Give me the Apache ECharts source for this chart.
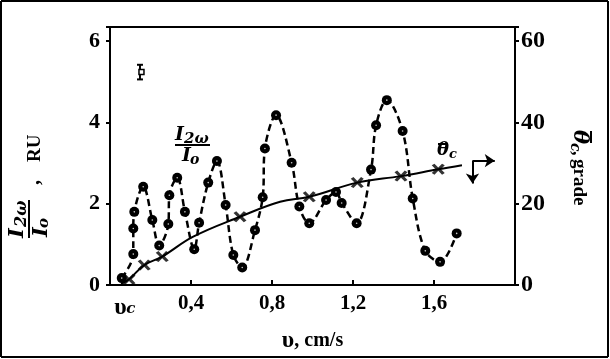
<!DOCTYPE html>
<html><head><meta charset="utf-8">
<script src="https://cdn.jsdelivr.net/npm/echarts@6/dist/echarts.min.js"></script>
<style>html,body{margin:0;padding:0;background:#fff}#c{width:610px;height:359px}</style>
</head><body><div id="c"></div>
<script>
// I2w/Io (left axis, RU) measured points along dashed curve
const ratioV = [0.058,0.115,0.115,0.12,0.164,0.209,0.243,0.288,0.293,0.332,0.37,0.416,0.44,0.485,0.528,0.571,0.609,0.653,0.716,0.754,0.765,0.82,0.897,0.935,0.984,1.067,1.116,1.144,1.218,1.289,1.314,1.367,1.445,1.495,1.557,1.63,1.712];
const ratioI = [0.17,0.76,1.39,1.80,2.42,1.60,0.97,1.50,2.21,2.64,1.80,0.88,1.53,2.52,3.05,1.97,0.74,0.43,1.35,2.16,3.36,4.18,3.01,1.93,1.52,2.09,2.29,2.02,1.52,2.84,3.93,4.55,3.79,2.13,0.84,0.57,1.27];
// theta_c (right axis, grade) measured X markers
const thetaV = [0.094,0.169,0.258,0.642,0.984,1.221,1.437,1.621];
const thetaDeg = [1.4,4.9,7.0,16.8,21.7,25.2,26.8,28.5];
// solid fitted theta curve
const curveV = [0.054,0.094,0.169,0.258,0.411,0.642,0.84,0.984,1.221,1.437,1.621,1.738];
const curveDeg = [0.3,1.4,4.9,7.0,11.9,16.8,20.5,21.7,25.2,26.8,28.5,29.5];
// tick labels
const xTickLabels = [0.4,0.8,1.2,1.6];
const leftTicks = [0,2,4,6];
const rightTicks = [0,20,40,60];
const vcValue = 0.08;
// error bar example [v, low, high]
const errBar = [[0.148,5.06,5.42]];
// arrow annotation for theta curve (right axis coords)
const arrowCorner = [1.79,30.6], arrowRight = [1.9,30.6], arrowDown = [1.79,25.0];

const chart = echarts.init(document.getElementById('c'), null, {renderer:'canvas'});
const BLACK = '#000';
const serif = 'Liberation Serif';
const ital = '"DejaVu Serif"';

function t(text, x, y, font, va) {
  return {type:'text', x:x, y:y, silent:true,
    style:{text:text, font:font, fill:BLACK, align:'left', verticalAlign:va||'bottom'}};
}
function bar(x, y, w, h) {
  return {type:'rect', silent:true, shape:{x:x, y:y, width:w, height:h}, style:{fill:BLACK}};
}
function ln(x1, y1, x2, y2) {
  return {type:'line', silent:true, shape:{x1:x1,y1:y1,x2:x2,y2:y2}, style:{stroke:BLACK, lineWidth:2}};
}

const option = {
  animation:false,
  backgroundColor:'#fff',
  grid:{left:110, right:95, top:27, bottom:74, show:true, borderColor:BLACK, borderWidth:2, backgroundColor:'rgba(0,0,0,0)'},
  xAxis:{type:'value', min:0, max:2, interval:0.4,
    axisLine:{lineStyle:{color:BLACK, width:2}},
    axisTick:{inside:true, length:5, lineStyle:{color:BLACK, width:2}},
    splitLine:{show:false},
    axisLabel:{color:BLACK, fontFamily:serif, fontWeight:'bold', fontSize:21, margin:8,
      formatter:function(v){ const r=Math.round(v*10)/10; return xTickLabels.indexOf(r)>=0 ? r.toFixed(1).replace('.',',') : ''; }},
    name:'{u|υ}{n|, cm/s}', nameLocation:'middle', nameGap:44,
    nameTextStyle:{color:BLACK, rich:{u:{fontFamily:serif, fontWeight:'bold', fontSize:24, color:BLACK}, n:{fontFamily:serif, fontWeight:'bold', fontSize:20, color:BLACK}}}
  },
  yAxis:[
    {type:'value', min:0, max:6.35, interval:2, position:'left',
     axisLine:{show:true, lineStyle:{color:BLACK, width:2}},
     axisTick:{show:true, length:4, lineStyle:{color:BLACK, width:2}},
     splitLine:{show:false},
     axisLabel:{color:BLACK, fontFamily:serif, fontWeight:'bold', fontSize:22, margin:10,
       formatter:function(v){ return leftTicks.indexOf(Math.round(v*100)/100)>=0 ? String(v) : ''; }}},
    {type:'value', min:0, max:63.5, interval:20, position:'right',
     axisLine:{show:true, lineStyle:{color:BLACK, width:2}},
     axisTick:{show:true, length:4, lineStyle:{color:BLACK, width:2}},
     splitLine:{show:false},
     axisLabel:{color:BLACK, fontFamily:serif, fontWeight:'bold', fontSize:24, margin:6,
       formatter:function(v){ return rightTicks.indexOf(Math.round(v*100)/100)>=0 ? String(v) : ''; }}}
  ],
  series:[
    {type:'line', yAxisIndex:0, smooth:0.35, data:ratioV.map((v,i)=>[v,ratioI[i]]),
     lineStyle:{color:BLACK, width:2.5, type:[7,4]}, symbol:'circle', symbolSize:10,
     itemStyle:{color:BLACK}, z:3},
    {type:'scatter', yAxisIndex:0, data:ratioV.map((v,i)=>[v,ratioI[i]]), symbol:'circle', symbolSize:1.6,
     itemStyle:{color:'#fff'}, z:4, silent:true},
    {type:'line', yAxisIndex:1, smooth:0.4, data:curveV.map((v,i)=>[v,curveDeg[i]]), showSymbol:false,
     lineStyle:{color:BLACK, width:2}, z:2},
    {type:'scatter', yAxisIndex:1, data:thetaV.map((v,i)=>[v,thetaDeg[i]]),
     symbol:'path://M0,1.5L2.5,0L6,3.5L9.5,0L12,1.5L8.5,5L12,8.5L9.5,10L6,6.5L2.5,10L0,8.5L3.5,5Z', symbolSize:[13,11],
     itemStyle:{color:BLACK}, z:5,
     markLine:{silent:true, animation:false, symbol:['none','arrow'], symbolSize:10,
       lineStyle:{type:'solid', color:BLACK, width:2}, label:{show:false},
       data:[[{coord:arrowCorner},{coord:arrowRight}],[{coord:arrowCorner},{coord:arrowDown}]]}},
    {type:'custom', yAxisIndex:0, data:errBar, z:6, silent:true,
     renderItem:function(params, api){
       const x=api.value(0), lo=api.coord([x, api.value(1)]), hi=api.coord([x, api.value(2)]);
       const st={stroke:BLACK, lineWidth:2};
       const my=(lo[1]+hi[1])/2;
       return {type:'group', children:[
         {type:'line', shape:{x1:lo[0],y1:lo[1],x2:hi[0],y2:hi[1]}, style:st},
         {type:'line', shape:{x1:lo[0]-3,y1:lo[1],x2:lo[0]+3,y2:lo[1]}, style:st},
         {type:'line', shape:{x1:hi[0]-3,y1:hi[1],x2:hi[0]+3,y2:hi[1]}, style:st},
         {type:'rect', shape:{x:lo[0]-1,y:my-2.5,width:5,height:5}, style:{fill:'#fff', stroke:BLACK, lineWidth:1.5}}
       ]};
     }}
  ]
};
chart.setOption(option);
const vcX = chart.convertToPixel({xAxisIndex:0}, vcValue);
const bi = 'italic bold ';
chart.setOption({graphic:[
  // outer border
  {type:'group', silent:true, children:[ln(1,1,608,1), ln(1,1,1,357), ln(608,1,608,357), ln(1,357,608,357)]},
  // left axis title (rotated)
  {type:'group', x:29, y:238, rotation:Math.PI/2, silent:true, children:[
    t('I', 0, -1, bi+'21px '+ital),
    t('2ω', 11, 1, bi+'16px '+ital),
    bar(0, -1, 38, 2),
    t('I', 1, 2, bi+'21px '+ital, 'top'),
    t('o', 10, 8, bi+'15px '+ital, 'top'),
    t(',', 53, 15, 'bold 20px '+serif),
    t('RU', 76, 16, 'bold 19px '+serif)
  ]},
  // right axis title (rotated)
  {type:'group', x:573, y:130, rotation:-Math.PI/2, silent:true, children:[
    t('θ', 0, 4, bi+'21px '+ital),
    bar(1, -19, 12, 2),
    t('c', 13, 5, bi+'14px '+ital),
    t(',', 21, 4, 'bold 18px '+serif),
    t('grade', 29, 4, 'bold 19px '+serif)
  ]},
  // in-plot fraction label
  {type:'group', x:175, y:145, silent:true, children:[
    t('I', 0, 0, bi+'19px '+ital),
    t('2ω', 9, 2, bi+'15px '+ital),
    bar(0, -1, 35, 2),
    t('I', 7, 2, bi+'19px '+ital, 'top'),
    t('o', 15, 8, bi+'14px '+ital, 'top')
  ]},
  // theta_c label
  {type:'group', x:437, y:159, silent:true, children:[
    t('θ', 0, 0, bi+'18px '+ital),
    bar(1, -16, 10, 2),
    t('c', 12, 2, bi+'13px '+ital)
  ]},
  // υc tick label at its axis value
  {type:'group', x:vcX-12, y:296, silent:true, children:[
    t('υ', 0, 0, 'bold 24px '+serif, 'top'),
    t('c', 12, 6, bi+'15px '+ital, 'top')
  ]}
]});
</script></body></html>
